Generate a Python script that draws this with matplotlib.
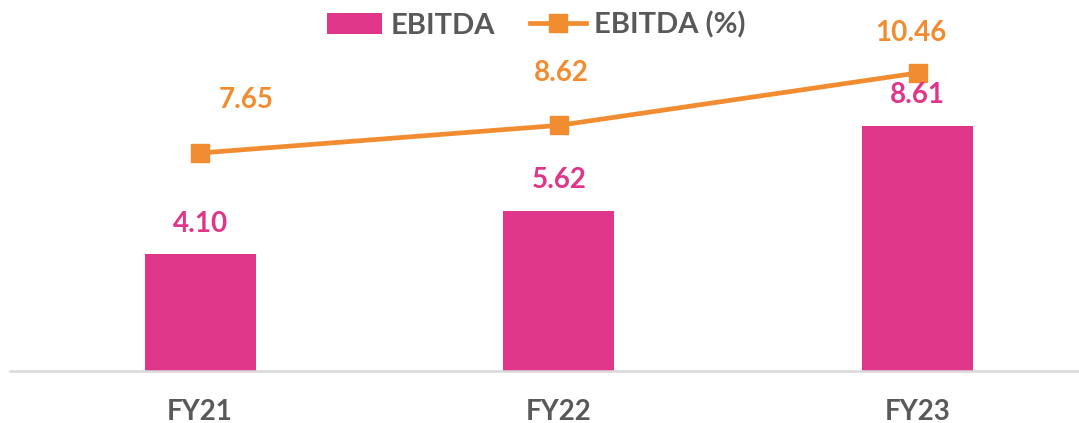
import numpy as np
import matplotlib.pyplot as plt

years = ["FY21", "FY22", "FY23"]
ebitda = [4.10, 5.62, 8.61]
ebitda_pct = [7.65, 8.62, 10.46]

pink = "#E0368A"
orange = "#F28C30"
grey = "#595959"

plt.rcParams['font.family'] = ['Lato', 'DejaVu Sans']

fig = plt.figure(figsize=(10.79, 4.23), dpi=100)
ax = fig.add_axes([10 / 1079, 52 / 423, 1069 / 1079, 371 / 423])

x = np.arange(len(years))
bars = ax.bar(x, ebitda, width=0.31, color=pink, label="EBITDA", zorder=2)
line, = ax.plot(x, ebitda_pct, color=orange, lw=3.4, marker="s", ms=12.5,
                label="EBITDA (%)", zorder=3)

# value labels
for xi, v in zip(x, ebitda):
    ax.annotate(f"{v:.2f}", (xi, v), xytext=(0, 22), textcoords="offset points",
                ha="center", va="center", color=pink, fontsize=20, fontweight="bold")

pct_offsets = [(33, 38), (2, 38), (-5, 29)]
for xi, v, off in zip(x, ebitda_pct, pct_offsets):
    ax.annotate(f"{v:.2f}", (xi, v), xytext=off, textcoords="offset points",
                ha="center", va="center", color=orange, fontsize=20, fontweight="bold")

ax.set_xlim(-0.53, 2.45)
ax.set_ylim(0, 13.02)
ax.set_xticks(x)
ax.set_xticklabels(years, fontsize=20, fontweight="bold", color=grey)
ax.tick_params(axis="x", length=0, pad=20)
ax.set_yticks([])
for s in ["top", "right", "left"]:
    ax.spines[s].set_visible(False)
ax.spines["bottom"].set_color("#D9D9D9")
ax.spines["bottom"].set_linewidth(1.8)

leg = fig.legend([bars, line], ["EBITDA", "EBITDA (%)"], loc="upper center",
                 bbox_to_anchor=(0.497, 1.035), ncol=2, frameon=False,
                 fontsize=21, handlelength=1.9, handleheight=0.75, columnspacing=1.2,
                 handletextpad=0.3)
for t in leg.get_texts():
    t.set_color(grey)
    t.set_fontweight("bold")

plt.savefig("out.png", dpi=100)
